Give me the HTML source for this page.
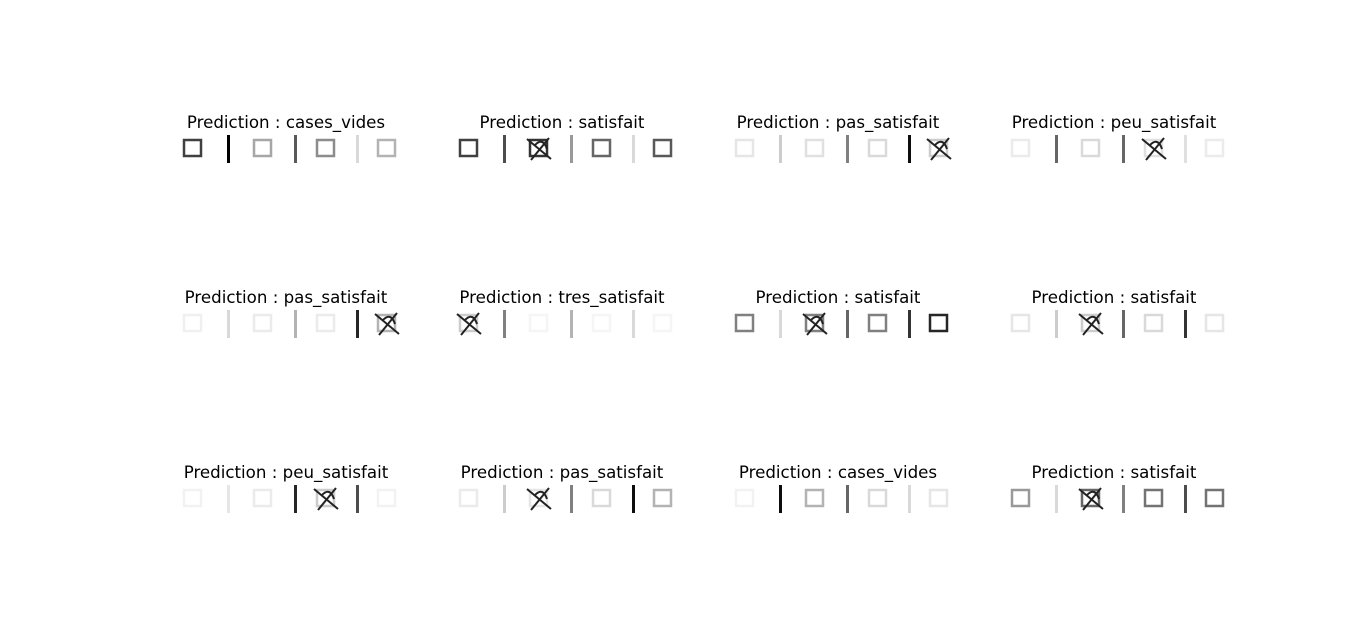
<!DOCTYPE html>
<html><head><meta charset="utf-8">
<style>
html,body{margin:0;padding:0;background:#fff;}
svg{display:block;}
text{font-family:"DejaVu Sans","Liberation Sans",sans-serif;font-size:16.67px;fill:#000;}
</style></head>
<body>
<svg id="fig" width="1366" height="643" viewBox="0 0 1366 643"></svg>
<script>
const labels = ["cases_vides","satisfait","pas_satisfait","peu_satisfait",
 "pas_satisfait","tres_satisfait","satisfait","satisfait",
 "peu_satisfait","pas_satisfait","cases_vides","satisfait"];
// darkness (0..1) of the 4 checkbox squares per panel
const boxDark = [[0.75,0.35,0.45,0.3],[0.75,0.8,0.6,0.65],[0.1,0.12,0.15,0.2],[0.08,0.15,0.12,0.08],
 [0.06,0.08,0.08,0.3],[0.2,0.04,0.04,0.04],[0.5,0.5,0.5,0.85],[0.1,0.2,0.15,0.1],
 [0.05,0.08,0.2,0.05],[0.08,0.1,0.15,0.3],[0.05,0.3,0.15,0.1],[0.4,0.6,0.55,0.55]];
// darkness of the 3 separators
const sepDark = [[1,0.65,0.15],[0.7,0.4,0.15],[0.2,0.5,0.95],[0.6,0.6,0.12],
 [0.15,0.3,0.85],[0.5,0.3,0.15],[0.15,0.6,0.8],[0.2,0.6,0.8],
 [0.1,0.85,0.7],[0.2,0.5,0.95],[0.95,0.6,0.15],[0.15,0.5,0.7]];
// which box (0-3) carries a handwritten mark, -1 none
const markBox = [-1,1,3,2,3,0,1,1,2,1,-1,1];

const svg = document.getElementById('fig');
const NS = 'http://www.w3.org/2000/svg';
const colX = [176,452,728,1004], rowY = [135,310,485];
const boxOff = [7,77,140,201], sepOff = [51,118,180];
function el(t,a){const e=document.createElementNS(NS,t);for(const k in a)e.setAttribute(k,a[k]);return e;}
function g(d){const v=Math.round(255*(1-d));return `rgb(${v},${v},${v})`;}
labels.forEach((lab,i)=>{
  const x0=colX[i%4], y0=rowY[Math.floor(i/4)];
  const grp=el('g',{});
  
  
  const t=el('text',{x:x0+110,y:y0-7,'text-anchor':'middle'});
  
  
  t.textContent='Prediction : '+lab;
  grp.appendChild(t);
  boxDark[i].forEach((d,j)=>{
    const r=el('rect',{x:x0+boxOff[j]+1,y:y0+5,width:17,height:16,fill:'none',stroke:g(d),'stroke-width':2.5});
    
    
    grp.appendChild(r);
  });
  sepDark[i].forEach((d,j)=>{
    const r=el('rect',{x:x0+sepOff[j],y:y0,width:3,height:28,fill:g(d)});
    
    
    grp.appendChild(r);
  });
  const m=markBox[i];
  if(m>=0){
    const bx=x0+boxOff[m], by=y0;
    const p=el('path',{d:`M${bx-2} ${by+4} L${bx+22} ${by+24} M${bx+20} ${by+3} L${bx+2} ${by+25} M${bx+6} ${by+10} Q${bx+14} ${by+2} ${bx+18} ${by+14}`,fill:'none',stroke:'#222','stroke-width':2});
    
    
    grp.appendChild(p);
  }
  svg.appendChild(grp);
});
</script>
</body></html>
